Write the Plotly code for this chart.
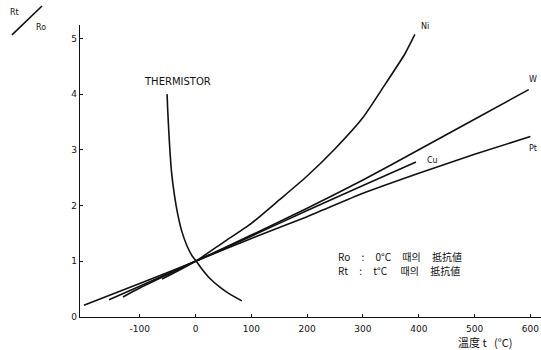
import plotly.graph_objects as go

# ---- data (t in °C, Rt/Ro) ----
pt_t = [-200, -100, 0, 100, 200, 300, 400, 500, 600]
pt_r = [0.21, 0.60, 1.0, 1.41, 1.80, 2.22, 2.58, 2.92, 3.24]

cu_t = [-155, -100, 0, 100, 200, 300, 395]
cu_r = [0.31, 0.55, 1.0, 1.45, 1.91, 2.36, 2.78]

w_t = [-130, -100, 0, 100, 200, 300, 400, 500, 597]
w_r = [0.36, 0.52, 1.0, 1.47, 1.95, 2.46, 3.0, 3.55, 4.08]

ni_t = [-60, 0, 50, 100, 150, 200, 250, 300, 340, 375, 393]
ni_r = [0.68, 1.0, 1.34, 1.68, 2.10, 2.53, 3.02, 3.58, 4.18, 4.72, 5.07]

th_t = [-51, -50, -48, -46, -43, -38, -32, -25, -15, -5, 0, 10, 25, 43, 60, 83]
th_r = [4.0, 3.75, 3.35, 3.0, 2.6, 2.2, 1.85, 1.55, 1.27, 1.08, 1.02, 0.88, 0.7, 0.54, 0.42, 0.29]

x_ticks = [-100, 0, 100, 200, 300, 400, 500, 600]
x_tick_text = ["-100", "0", "100", "200", "300", "400", "500", "600"]
y_ticks = [0, 1, 2, 3, 4, 5]

curve_labels = [("Ni", 412, 5.22, 8), ("W", 604, 4.27, 8), ("Cu", 424, 2.81, 8), ("Pt", 604, 3.02, 8),
                ("THERMISTOR", -32, 4.22, 10)]

sp = "\u00a0" * 5
note_lines = ["Ro" + sp + ":" + sp + "0°C" + sp + "때의" + sp + "抵抗値",
              "Rt" + sp + ":" + sp + "t°C" + sp + "\u00a0때의" + sp + "抵抗値"]

ink = "#111111"
hand = "DejaVu Sans"

fig = go.Figure()
for tt, rr in [(pt_t, pt_r), (cu_t, cu_r), (w_t, w_r), (ni_t, ni_r), (th_t, th_r)]:
    fig.add_trace(go.Scatter(x=tt, y=rr, mode="lines", line=dict(color=ink, width=1.6, shape="spline", smoothing=0.6),
                             showlegend=False, hoverinfo="skip"))

for txt, xx, yy, fs in curve_labels:
    fig.add_annotation(x=xx, y=yy, text=txt, showarrow=False, xref="x", yref="y",
                       xanchor="center", yanchor="middle",
                       font=dict(family=hand, size=fs, color=ink))

for txt, yy in zip(note_lines, [1.08, 0.84]):
    fig.add_annotation(x=251, y=yy, text=txt, xanchor="left", yanchor="middle", showarrow=False,
                       font=dict(family="Noto Sans CJK KR", size=10, color=ink))

# y axis title as diagonal fraction
fig.add_annotation(x=-0.141, y=1.044, xref="paper", yref="paper", text="Rt", showarrow=False,
                   xanchor="center", yanchor="middle", font=dict(family=hand, size=8, color=ink))
fig.add_annotation(x=-0.085, y=0.99, xref="paper", yref="paper", text="Ro", showarrow=False,
                   xanchor="center", yanchor="middle", font=dict(family=hand, size=8, color=ink))
fig.add_shape(type="line", xref="paper", yref="paper", x0=-0.1475, y0=0.966, x1=-0.0824, y1=1.065,
              line=dict(color=ink, width=1.6))

# x axis title
fig.add_annotation(x=0.879, y=-0.087, xref="paper", yref="paper",
                   text="溫度 t\u00a0\u00a0\u00a0(°C)", showarrow=False,
                   xanchor="center", yanchor="middle",
                   font=dict(family="Noto Sans CJK KR", size=11, color=ink))

fig.update_layout(
    width=541, height=350,
    margin=dict(l=80, r=0, t=25, b=33),
    paper_bgcolor="white", plot_bgcolor="white",
    xaxis=dict(range=[-207, 619], showgrid=False, zeroline=False, showline=True, linecolor=ink, linewidth=1.4,
               tickvals=x_ticks, ticktext=x_tick_text, ticks="inside", ticklen=3, tickcolor=ink,
               ticklabelstandoff=3, tickfont=dict(family=hand, size=9, color=ink)),
    yaxis=dict(range=[0, 5.24], showgrid=False, zeroline=False, showline=True, linecolor=ink, linewidth=1.4,
               tickvals=y_ticks, ticks="inside", ticklen=3, tickcolor=ink,
               tickfont=dict(family=hand, size=9, color=ink)),
)

fig.write_html("out.html", config={"displayModeBar": False},
               post_script="document.body.style.margin='0px';document.body.style.overflow='hidden';")
